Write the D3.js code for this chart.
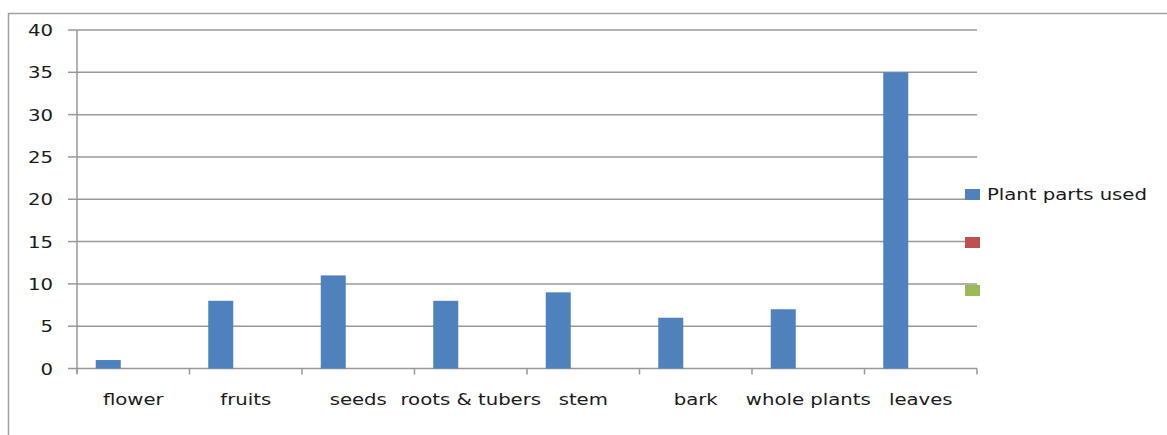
<!DOCTYPE html>
<html>
<head>
<meta charset="utf-8">
<script src="https://cdn.jsdelivr.net/npm/d3@7"></script>
<style>
  html, body { margin: 0; padding: 0; background: #fff; }
  svg text { font-family: "DejaVu Sans", Verdana, sans-serif; fill: #1a1a1a; }
</style>
</head>
<body>
<div id="chart"></div>
<script>
// chart data
var categories = ["flower", "fruits", "seeds", "roots & tubers", "stem", "bark", "whole plants", "leaves"];
var plantParts = [1, 8, 11, 8, 9, 6, 7, 35];
var seriesNames = ["Plant parts used", "", ""];
var seriesColors = ["#4F81BD", "#C0504D", "#9BBB59"];
var yTicks = [0, 5, 10, 15, 20, 25, 30, 35, 40];

(function () {
    var width = 1167, height = 435;
    var plotLeft = 77, plotRight = 977, plotTop = 30, plotBottom = 368.5;
    var sx = 1.23; // text in the source picture is stretched horizontally

    var svg = d3.select("#chart").append("svg")
        .attr("width", width)
        .attr("height", height);

    // outer chart border
    svg.append("rect")
        .attr("x", 8.5).attr("y", 13.5)
        .attr("width", 1180).attr("height", 440)
        .attr("fill", "none")
        .attr("stroke", "#a0a0a0")
        .attr("stroke-width", 1.5);

    var y = d3.scaleLinear().domain([0, 40]).range([plotBottom, plotTop]);
    var x = d3.scaleBand().domain(categories).range([plotLeft, plotRight]).padding(0);
    // three series per category, excel gap width 150%
    var xs = d3.scaleBand().domain(d3.range(seriesNames.length))
        .range([0, x.bandwidth()]).paddingInner(0).paddingOuter(0.75);

    // gridlines
    svg.append("g").selectAll("line")
        .data(yTicks.filter(function (d) { return d > 0; }))
        .enter().append("line")
        .attr("x1", plotLeft).attr("x2", plotRight)
        .attr("y1", function (d) { return y(d); })
        .attr("y2", function (d) { return y(d); })
        .attr("stroke", "#999")
        .attr("stroke-width", 1.5);

    // y axis
    var yAxis = svg.append("g");
    yAxis.append("line")
        .attr("x1", plotLeft).attr("x2", plotLeft)
        .attr("y1", plotTop).attr("y2", plotBottom + 4)
        .attr("stroke", "#999").attr("stroke-width", 1.5);
    yAxis.selectAll(".tick")
        .data(yTicks)
        .enter().append("line")
        .attr("x1", plotLeft - 9).attr("x2", plotLeft)
        .attr("y1", function (d) { return y(d); })
        .attr("y2", function (d) { return y(d); })
        .attr("stroke", "#999").attr("stroke-width", 1.5);
    yAxis.selectAll("text")
        .data(yTicks)
        .enter().append("text")
        .attr("transform", function (d) { return "translate(53," + (y(d) + 6) + ") scale(" + sx + ",1)"; })
        .attr("text-anchor", "end")
        .style("font-size", "16px")
        .text(function (d) { return d; });

    // x axis
    var xAxis = svg.append("g");
    xAxis.append("line")
        .attr("x1", plotLeft).attr("x2", plotRight)
        .attr("y1", plotBottom).attr("y2", plotBottom)
        .attr("stroke", "#999").attr("stroke-width", 1.5);
    xAxis.selectAll(".tick")
        .data(categories.concat([null]))
        .enter().append("line")
        .attr("x1", function (d) { return d === null ? plotRight : x(d); })
        .attr("x2", function (d) { return d === null ? plotRight : x(d); })
        .attr("y1", plotBottom).attr("y2", plotBottom + 6)
        .attr("stroke", "#999").attr("stroke-width", 1.5);
    xAxis.selectAll("text")
        .data(categories)
        .enter().append("text")
        .attr("transform", function (d) {
            return "translate(" + (x(d) + x.bandwidth() / 2) + ",405) scale(" + sx + ",1)";
        })
        .attr("text-anchor", "middle")
        .style("font-size", "16px")
        .text(function (d) { return d; });

    // bars
    svg.append("g").selectAll("rect")
        .data(plantParts)
        .enter().append("rect")
        .attr("x", function (d, i) { return x(categories[i]) + xs(0); })
        .attr("width", xs.bandwidth())
        .attr("y", function (d) { return y(d); })
        .attr("height", function (d) { return plotBottom - y(d); })
        .attr("fill", seriesColors[0]);

    // legend
    var legend = svg.append("g").selectAll("g")
        .data(seriesNames)
        .enter().append("g")
        .attr("transform", function (d, i) { return "translate(965," + (194 + i * 48) + ")"; });
    legend.append("rect")
        .attr("x", 0).attr("y", -5)
        .attr("width", 15).attr("height", 11)
        .attr("fill", function (d, i) { return seriesColors[i]; });
    legend.append("text")
        .attr("transform", "translate(22,6) scale(" + sx + ",1)")
        .style("font-size", "16px")
        .text(function (d) { return d; });
})();
</script>
</body>
</html>
